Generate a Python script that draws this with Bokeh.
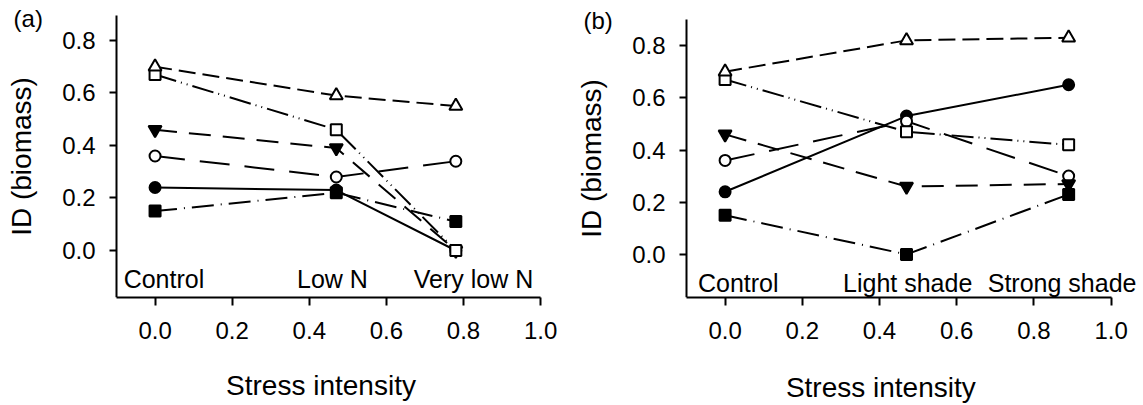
from bokeh.plotting import figure
from bokeh.layouts import row
from bokeh.models import FixedTicker, PrintfTickFormatter, Label, Range1d
from bokeh.embed import file_html
from bokeh.resources import INLINE

# ---------------- data ----------------
stress_a = [0.0, 0.47, 0.78]
stress_b = [0.0, 0.47, 0.89]
cats_a = ["Control", "Low N", "Very low N"]
cats_b = ["Control", "Light shade", "Strong shade"]

# panel (a) series
circ_a = [0.24, 0.23, 0.00]
sqf_a = [0.15, 0.22, 0.11]
circo_a = [0.36, 0.28, 0.34]
trid_a = [0.46, 0.39, 0.00]
sqo_a = [0.67, 0.46, 0.00]
trio_a = [0.70, 0.59, 0.55]

# panel (b) series
circ_b = [0.24, 0.53, 0.65]
sqf_b = [0.15, 0.00, 0.23]
circo_b = [0.36, 0.51, 0.30]
trid_b = [0.46, 0.26, 0.27]
sqo_b = [0.67, 0.47, 0.42]
trio_b = [0.70, 0.82, 0.83]

x_ticks = [0.0, 0.2, 0.4, 0.6, 0.8, 1.0]
y_ticks = [0.0, 0.2, 0.4, 0.6, 0.8]

FONT = "Liberation Sans"
NBSP = "\u00a0"

# style per series: (marker, filled, dash, size)
styles = [
    ("circle", True, "solid", 11),
    ("square", True, "22 7 1 7", 11),
    ("circle", False, "30 15", 11),
    ("inverted_triangle", True, "22 12", 13),
    ("square", False, "22 5 1 5 1 5", 11),
    ("triangle", False, "17 7", 13),
]


def make_panel(xs, series, cats, cat_x, panel_label, width, axis_px, ppu_x, top_px,
               y_lo, y_hi, ppu_y, xlab_standoff, lab_y, xlab_pad):
    # frame covers the whole figure except the bottom axis strip
    x_start = -0.1 - axis_px / ppu_x
    x_end = -0.1 + (width - axis_px) / ppu_x
    y_end = y_hi + top_px / ppu_y
    p = figure(width=width, height=405, output_backend="svg", toolbar_location=None,
               x_range=Range1d(x_start, x_end), y_range=Range1d(y_lo, y_end),
               min_border_left=0, min_border_right=0, min_border_top=0,
               min_border_bottom=108)
    p.outline_line_color = None
    p.xgrid.visible = False
    p.ygrid.visible = False
    p.background_fill_color = "white"
    p.border_fill_color = "white"

    for ax, ticks in ((p.xaxis[0], x_ticks), (p.yaxis[0], y_ticks)):
        ax.ticker = FixedTicker(ticks=ticks)
        ax.formatter = PrintfTickFormatter(format="%.1f")
        ax.minor_tick_line_color = None
        ax.major_tick_in = 0
        ax.axis_line_width = 2
        ax.axis_line_color = "black"
        ax.major_tick_line_width = 2
        ax.major_tick_line_color = "black"
        ax.major_label_text_font = FONT
        ax.major_label_text_font_size = "24px"
        ax.major_label_text_color = "black"
        ax.axis_label_text_font = FONT
        ax.axis_label_text_font_size = "28px"
        ax.axis_label_text_font_style = "normal"
        ax.axis_label_text_color = "black"

    p.xaxis.bounds = (-0.1, 1.0)
    p.yaxis.bounds = (y_lo, y_hi)
    p.yaxis.fixed_location = -0.1
    p.xaxis.major_tick_out = 8
    p.yaxis.major_tick_out = 7
    p.xaxis.major_label_standoff = 16
    p.yaxis.major_label_standoff = 14
    # leading no-break spaces centre the title under the drawn axis (-0.1 .. 1.0)
    p.xaxis.axis_label = NBSP * xlab_pad + "Stress intensity"
    p.yaxis.axis_label = "ID (biomass)"
    p.xaxis.axis_label_standoff = xlab_standoff
    p.yaxis.axis_label_standoff = 22
    p.yaxis.major_label_orientation = "horizontal"

    for ys, (marker, filled, dash, size) in zip(series, styles):
        p.line(xs, ys, line_color="black", line_width=2, line_dash=dash)
    for ys, (marker, filled, dash, size) in zip(series, styles):
        p.scatter(xs, ys, marker=marker, size=size, line_color="black", line_width=2,
                  fill_color="black" if filled else "white")

    for txt, cx in zip(cats, cat_x):
        p.add_layout(Label(x=cx, y=-0.11, text=txt, text_align="center",
                           text_baseline="alphabetic", text_font=FONT,
                           text_font_size="25px", text_color="black"))
    p.add_layout(Label(x=-0.367, y=lab_y, text=panel_label, text_align="left",
                       text_baseline="top", text_font=FONT, text_font_size="24px",
                       text_color="black"))
    return p


series_a = [circ_a, sqf_a, circo_a, trid_a, sqo_a, trio_a]
series_b = [circ_b, sqf_b, circo_b, trid_b, sqo_b, trio_b]

pa = make_panel(stress_a, series_a, cats_a, [0.023, 0.46, 0.826], "(a)", 571, 116, 385.6, 15,
                -0.179, 0.895, 262.6, 28, 0.935, 9)
pb = make_panel(stress_b, series_b, cats_b, [0.034, 0.473, 0.873], "(b)", 572, 115, 386.0, 19,
                -0.165, 0.900, 261.0, 30, 0.946, 6)

layout = row(pa, pb, spacing=0)
open("out.html", "w").write(file_html(layout, INLINE))
